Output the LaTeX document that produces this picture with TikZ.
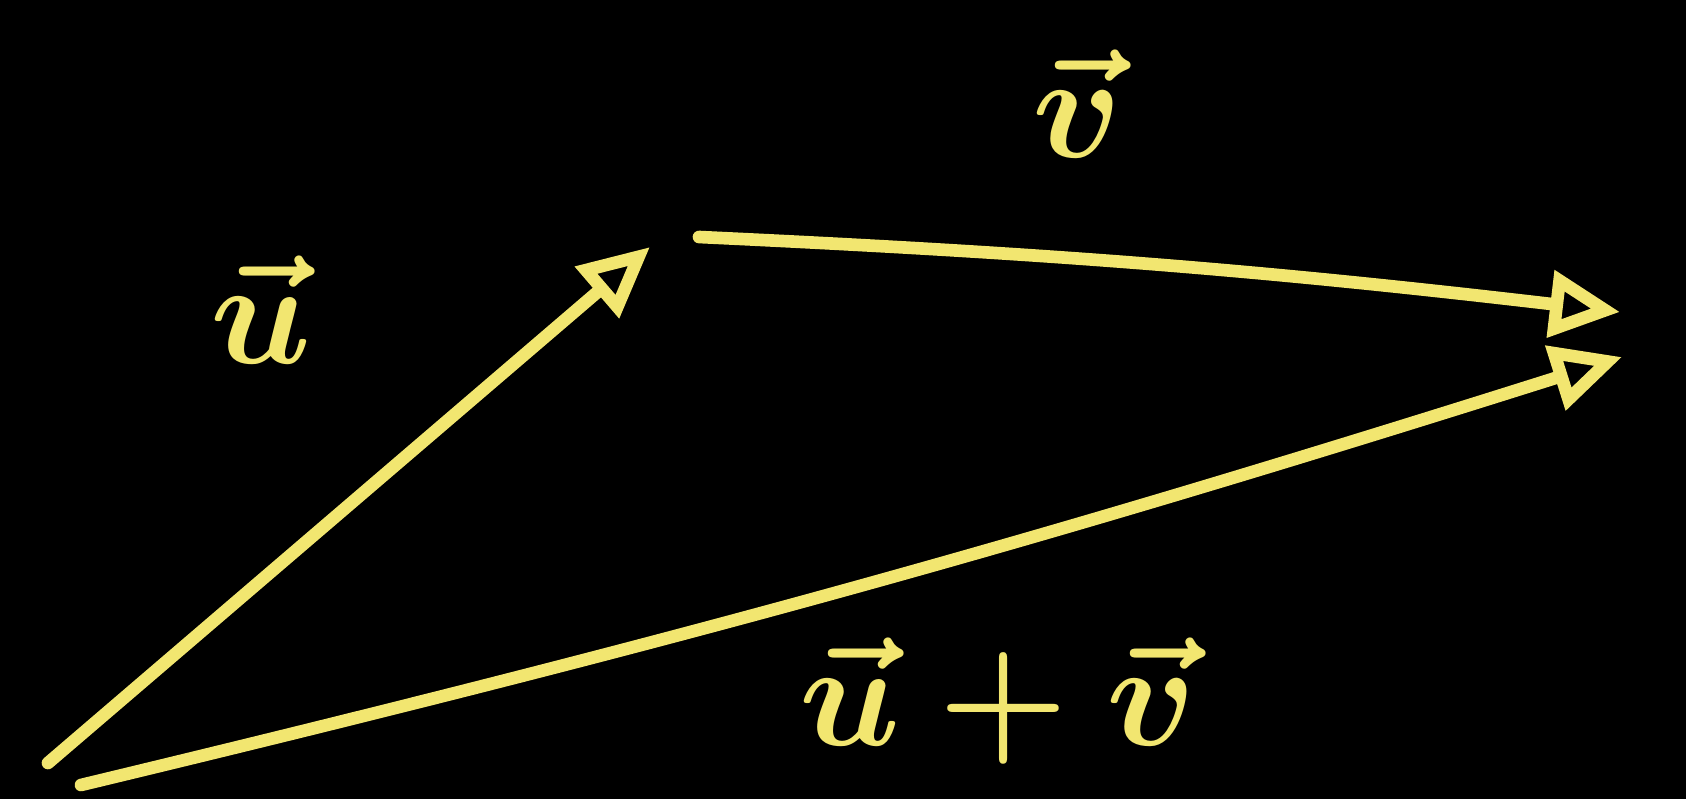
\documentclass[tikz,border=0pt]{standalone}
\usepackage{amsmath,amssymb,bm}
\usepackage{xcolor}
\usetikzlibrary{arrows.meta,calc}
\definecolor{chalk}{RGB}{242,230,112}

\begin{document}
\begin{tikzpicture}[every node/.style={font=\Huge\boldmath,text=chalk,scale=1.7},
  vec/.style={draw=chalk,line width=3.6pt,line cap=round,-{Triangle[open,length=7mm,width=6.5mm,line width=3.6pt]}}]
\fill[black] (0,0) rectangle (16.86,7.99);
\coordinate (O) at (0.48,0.36); \coordinate (O2) at (0.81,0.14);
\coordinate (P) at (6.5,5.52); \coordinate (P2) at (6.99,5.62);
\coordinate (Q) at (16.2,4.87); \coordinate (S) at (16.22,4.42);
% the three arrows
\draw[vec] (O)--(P);
\draw[vec] (P2) to[bend left=2] (Q);
\draw[vec] (O2) to[bend right=2] (S);
\node (lu) at (2.61,4.89) {$\vec u$};
\node (lv) at (10.77,6.95) {$\vec v$};
\node (luv) at (9.98,0.98) {$\vec u+\vec v$};
\end{tikzpicture}
\end{document}
